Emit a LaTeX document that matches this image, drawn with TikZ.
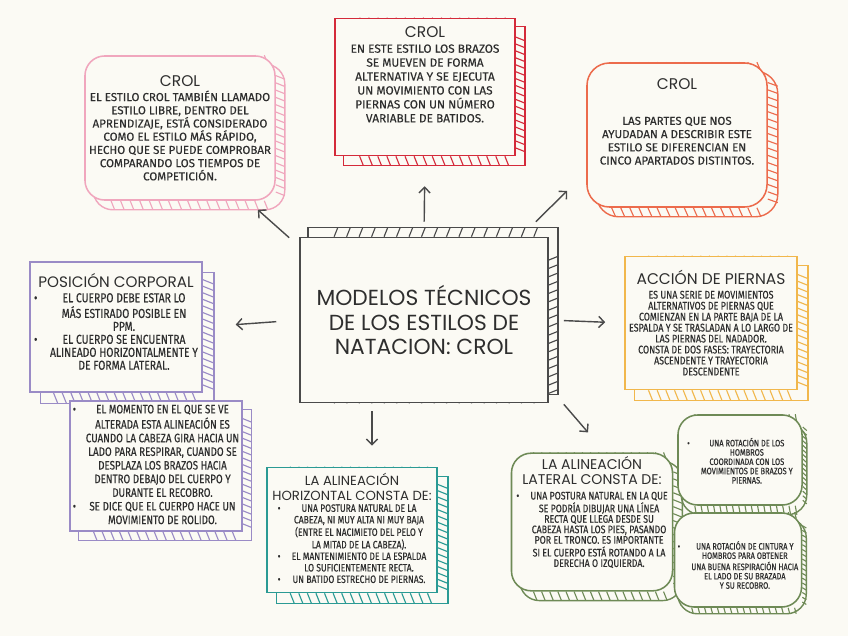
\documentclass[tikz,border=0pt]{standalone}
\usepackage{fontspec}
\setmainfont{Fira Sans}[FakeBold=0.35]
\newfontfamily\headfont{Poppins}
\newfontfamily\narrowfont[FakeStretch=0.8,FakeBold=0.35]{Fira Sans}
\usetikzlibrary{arrows.meta,calc,backgrounds}

\definecolor{paper}{HTML}{FBFAF4}
\definecolor{ink}{HTML}{2E2E2E}
\definecolor{pinkline}{HTML}{F0A6BD}
\definecolor{redline}{HTML}{D42A3A}
\definecolor{orangeline}{HTML}{EC6B4C}
\definecolor{purpleline}{HTML}{9A8BC6}
\definecolor{yellowline}{HTML}{F1B74C}
\definecolor{tealline}{HTML}{2A9A94}
\definecolor{greenline}{HTML}{6E8A56}
\definecolor{arrowgrey}{HTML}{4A4A4A}

\tikzset{
  box/.style={draw=#1, fill=paper, line width=1.1pt, align=center, inner sep=2pt, text=ink},
  band/.style={line width=1pt},
  hatch/.style={line width=0.8pt},
  arr/.style={-{Straight Barb[length=4pt,width=8pt]}, line width=1pt, draw=arrowgrey},
}

% hatched edge behind a box: [shape options]{node}{dx}{dy}{colour}
\newcommand{\hatchband}[5][]{%
  \begin{scope}[on background layer]
    \draw[#5, band, #1] ($(#2.north west)+(#3,#4)$) rectangle ($(#2.south east)+(#3,#4)$);
    \foreach \t in {0.14,0.19,...,0.96} {
      \draw[#5, hatch] ($(#2.south west)!\t!(#2.south east)$) -- ++({0.4*#3},#4);
      \draw[#5, hatch] ($(#2.north west)!\t!(#2.north east)$) -- ++({0.4*#3},#4);
      \draw[#5, hatch] ($(#2.north east)!\t!(#2.south east)$) -- ++(#3,{0.4*#4});
    }
  \end{scope}}

\begin{document}
\begin{tikzpicture}[x=0.025cm,y=-0.025cm]
\begin{scope}[on background layer]
\fill[paper] (0,0) rectangle (848,636);
\end{scope}
\useasboundingbox (0,0) rectangle (848,636);

\node[box=arrowgrey, minimum width=6.2cm, minimum height=4.125cm,
  font=\headfont\fontsize{15.5}{17.5}\selectfont] (modelos) at (424,320)
  {MODELOS TÉCNICOS\\ DE LOS ESTILOS DE\\ NATACION: CROL};

\node[box=pinkline, rounded corners=14pt, minimum width=4.75cm, minimum height=3.6cm,
  font=\fontsize{8.2}{9.4}\selectfont] (crol) at (180,128)
  {{\headfont\fontsize{11}{13}\selectfont CROL}\\[1pt]
   EL ESTILO CROL TAMBIÉN LLAMADO\\ ESTILO LIBRE, DENTRO DEL\\ APRENDIZAJE, ESTÁ CONSIDERADO\\
   COMO EL ESTILO MÁS RÁPIDO,\\ HECHO QUE SE PUEDE COMPROBAR\\ COMPARANDO LOS TIEMPOS DE\\ COMPETICIÓN.};

\node[box=redline, minimum width=4.5cm, minimum height=3.425cm,
  font=\fontsize{8.4}{9.9}\selectfont] (brazos) at (425,87)
  {{\headfont\fontsize{11}{13}\selectfont CROL}\\[1pt]
   EN ESTE ESTILO LOS BRAZOS\\ SE MUEVEN DE FORMA\\ ALTERNATIVA Y SE EJECUTA\\
   UN MOVIMIENTO CON LAS\\ PIERNAS CON UN NÚMERO\\ VARIABLE DE BATIDOS.\\[8pt]};

\node[box=orangeline, rounded corners=16pt, minimum width=4.5cm, minimum height=3.6cm,
  font=\fontsize{8.2}{9.4}\selectfont] (partes) at (677,135)
  {{\headfont\fontsize{11}{13}\selectfont CROL}\\[16pt]
   LAS PARTES QUE NOS\\ AYUDADAN A DESCRIBIR ESTE\\ ESTILO SE DIFERENCIAN EN\\ CINCO APARTADOS DISTINTOS.\\[10pt]};

\node[box=purpleline, minimum width=4.3cm, minimum height=3.25cm,
  font=\narrowfont\fontsize{9.2}{9.2}\selectfont] (posicion) at (116,327)
  {{\headfont\fontsize{10.8}{12}\selectfont POSICIÓN CORPORAL}\\[3pt]
   \begin{tabular}{@{}c@{\hspace{9pt}}c@{}}
   \textbullet & EL CUERPO DEBE ESTAR LO\\
    & MÁS ESTIRADO POSIBLE EN\\
    & PPM.\\
   \textbullet & EL CUERPO SE ENCUENTRA\\
    & ALINEADO HORIZONTALMENTE Y\\
    & DE FORMA LATERAL.
   \end{tabular}\\[4pt]};

\node[box=purpleline, minimum width=4.175cm, minimum height=3.05cm,
  font=\narrowfont\fontsize{8.7}{9.7}\selectfont] (rolido) at (156,466)
  {\begin{tabular}{@{}c@{\hspace{7pt}}c@{}}
   \textbullet & EL MOMENTO EN EL QUE SE VE\\
    & ALTERADA ESTA ALINEACIÓN ES\\
    & CUANDO LA CABEZA GIRA HACIA UN\\
    & LADO PARA RESPIRAR, CUANDO SE\\
    & DESPLAZA LOS BRAZOS HACIA\\
    & DENTRO DEBAJO DEL CUERPO Y\\
    & DURANTE EL RECOBRO.\\
   \textbullet & SE DICE QUE EL CUERPO HACE UN\\
    & MOVIMIENTO DE ROLIDO.
   \end{tabular}};

\node[box=yellowline, minimum width=4.3cm, minimum height=3.325cm,
  font=\narrowfont\fontsize{7.9}{7.8}\selectfont] (piernas) at (711,323)
  {{\headfont\fontsize{11}{12}\selectfont ACCIÓN DE PIERNAS}\\[2pt]
   ES UNA SERIE DE MOVIMIENTOS\\ ALTERNATIVOS DE PIERNAS QUE\\ COMIENZAN EN LA PARTE BAJA DE LA\\
   ESPALDA Y SE TRASLADAN A LO LARGO DE\\ LAS PIERNAS DEL NADADOR.\\ CONSTA DE DOS FASES: TRAYECTORIA\\
   ASCENDENTE Y TRAYECTORIA\\ DESCENDENTE};

\node[box=tealline, minimum width=4.25cm, minimum height=3.125cm,
  font=\narrowfont\fontsize{7.6}{8.2}\selectfont] (horiz) at (352,530)
  {{\headfont\fontsize{9.4}{9.4}\selectfont LA ALINEACIÓN}\\[2.5pt]
   {\headfont\fontsize{9.4}{9.4}\selectfont HORIZONTAL CONSTA DE:}\\[1pt]
   \begin{tabular}{@{}c@{\hspace{8pt}}c@{}}
   \textbullet & UNA POSTURA NATURAL DE LA\\
    & CABEZA, NI MUY ALTA NI MUY BAJA\\
    & (ENTRE EL NACIMIETO DEL PELO Y\\
    & LA MITAD DE LA CABEZA).\\
   \textbullet & EL MANTENIMIENTO DE LA ESPALDA\\
    & LO SUFICIENTEMENTE RECTA.\\
   \textbullet & UN BATIDO ESTRECHO DE PIERNAS.
   \end{tabular}};

\node[box=greenline, rounded corners=14pt, minimum width=4.025cm, minimum height=3.375cm,
  font=\narrowfont\fontsize{7.8}{6.6}\selectfont] (lateral) at (592,522)
  {{\headfont\fontsize{10}{10}\selectfont LA ALINEACIÓN}\\[3pt]
   {\headfont\fontsize{10}{10}\selectfont LATERAL CONSTA DE:}\\[4pt]
   \begin{tabular}{@{}c@{\hspace{8pt}}c@{}}
   \textbullet & UNA POSTURA NATURAL EN LA QUE\\
    & SE PODRÍA DIBUJAR UNA LÍNEA\\
    & RECTA QUE LLEGA DESDE SU\\
    & CABEZA HASTA LOS PIES, PASANDO\\
    & POR EL TRONCO. ES IMPORTANTE\\
    & SI EL CUERPO ESTÁ ROTANDO A LA\\
    & DERECHA O IZQUIERDA.
   \end{tabular}\\[12pt]};

\node[box=greenline, rounded corners=14pt, minimum width=3.1cm, minimum height=2.25cm,
  font=\narrowfont\fontsize{6.6}{6.6}\selectfont] (hombros) at (740,460)
  {\mbox{}\\[2pt]
   \begin{tabular}{@{}c@{\hspace{8pt}}c@{}}
   \textbullet & UNA ROTACIÓN DE LOS\\
    & HOMBROS\\
    & COORDINADA CON LOS\\
    & MOVIMIENTOS DE BRAZOS Y\\
    & PIERNAS.
   \end{tabular}};

\node[box=greenline, rounded corners=14pt, minimum width=3.175cm, minimum height=2.35cm,
  font=\narrowfont\fontsize{6.6}{6.6}\selectfont] (cintura) at (738,560)
  {\mbox{}\\[8pt]
   \begin{tabular}{@{}c@{\hspace{8pt}}c@{}}
   \textbullet & UNA ROTACIÓN DE CINTURA Y\\
    & HOMBROS PARA OBTENER\\
    & UNA BUENA RESPIRACIÓN HACIA\\
    & EL LADO DE SU BRAZADA\\
    & Y SU RECOBRO.
   \end{tabular}};

\hatchband{modelos}{9}{-9}{arrowgrey}
\hatchband[rounded corners=14pt]{crol}{9}{9}{pinkline}
\hatchband{brazos}{9}{9}{redline}
\hatchband[rounded corners=16pt]{partes}{10}{9}{orangeline}
\hatchband{posicion}{11}{11}{purpleline}
\hatchband{rolido}{9}{9}{purpleline}
\hatchband{piernas}{10}{10}{yellowline}
\hatchband{horiz}{10}{10}{tealline}
\hatchband[rounded corners=14pt]{lateral}{9}{9}{greenline}
\hatchband[rounded corners=14pt]{hombros}{4}{9}{greenline}
\hatchband[rounded corners=14pt]{cintura}{4}{6}{greenline}

\draw[arr] ($(modelos.north west)+(-10,1)$) -- ($(crol.south east)+(-18,9)$);
\draw[arr, shorten <=0.375cm, shorten >=0.75cm] (modelos.north) -- (brazos.south);
\draw[arr] ($(modelos.north east)+(-13,-15)$) -- ($(partes.south west)+(-19,-17)$);
\draw[arr, shorten <=0.575cm, shorten >=0.825cm] (modelos.west) -- (posicion.east);
\draw[arr, shorten <=0.375cm, shorten >=0.475cm] (modelos.east) -- (piernas.west);
\draw[arr] ($(modelos.south)+(-52,8)$) -- ($(horiz.north)+(20,-21)$);
\draw[arr] ($(modelos.south east)+(15,1)$) -- ($(lateral.north)+(-4,-20)$);
\end{tikzpicture}
\end{document}
